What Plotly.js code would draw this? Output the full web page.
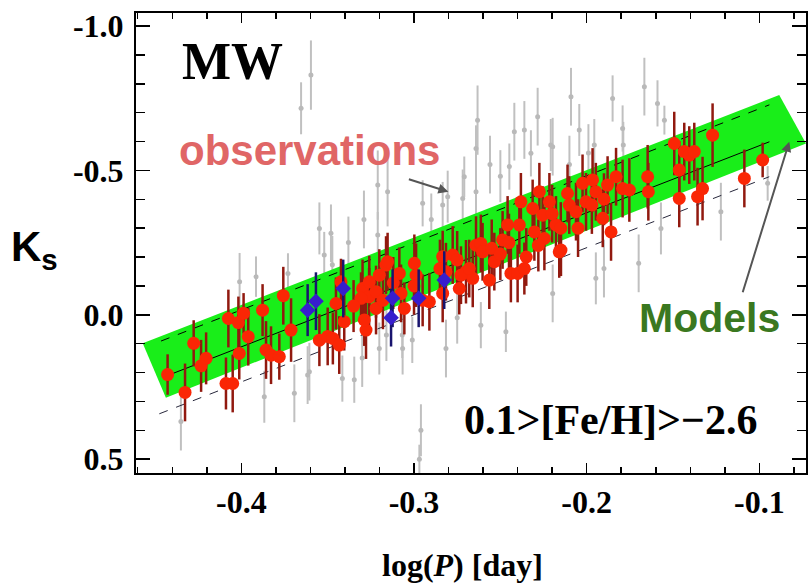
<!DOCTYPE html>
<html>
<head>
<meta charset="utf-8">
<script src="https://cdn.plot.ly/plotly-3.0.1.min.js"></script>
<style>html,body{margin:0;padding:0;background:#fff;}#chart{width:808px;height:586px;}</style>
</head>
<body>
<div id="chart"></div>
<script>
// ---- data ----
// red: MW observations
const redX = [-0.4427,-0.4326,-0.4276,-0.4233,-0.4204,-0.4075,-0.4017,-0.3987,-0.3960,-0.4012,-0.4089,-0.4050,-0.3877,-0.3857,-0.3828,-0.3780,-0.3757,-0.3712,-0.3548,-0.3500,-0.3470,-0.3433,-0.3452,-0.3404,-0.3423,-0.3298,-0.3260,-0.3220,-0.3278,-0.3288,-0.3307,-0.3259,-0.3201,-0.3162,-0.3153,-0.3220,-0.3085,-0.3075,-0.3056,-0.2998,-0.2988,-0.2911,-0.2834,-0.2834,-0.2776,-0.2815,-0.2699,-0.2660,-0.2641,-0.2738,-0.2728,-0.2680,-0.2613,-0.2603,-0.2564,-0.2535,-0.2487,-0.2458,-0.2439,-0.2400,-0.2361,-0.2390,-0.2381,-0.2313,-0.2303,-0.2274,-0.2255,-0.2245,-0.2178,-0.2149,-0.2111,-0.2101,-0.2062,-0.2024,-0.2004,-0.1966,-0.1947,-0.1907,-0.1859,-0.1879,-0.1830,-0.1792,-0.2216,-0.1753,-0.1647,-0.1643,-0.1493,-0.1435,-0.1406,-0.1377,-0.1271,-0.1464,-0.1464,-0.1358,-0.1329,-0.1087,-0.0981,-0.3350,-0.3180,-0.3120,-0.3000,-0.2950,-0.2850,-0.2750,-0.2550,-0.2500,-0.2450,-0.2350,-0.2280,-0.2200,-0.2150,-0.2050,-0.1970,-0.1900,-0.2159];
const redY = [0.207,0.269,0.099,0.177,0.151,0.013,0.027,-0.005,0.076,0.134,0.238,0.238,-0.016,0.122,0.140,0.145,-0.066,0.053,0.088,0.075,0.082,0.105,-0.039,0.024,-0.114,-0.091,-0.062,-0.022,0.053,0.018,-0.057,-0.114,-0.137,-0.172,-0.184,-0.080,-0.143,-0.074,-0.022,-0.178,-0.137,-0.045,-0.201,-0.074,-0.207,-0.149,-0.149,-0.126,-0.241,-0.091,-0.137,-0.160,-0.247,-0.218,-0.120,-0.184,-0.259,-0.311,-0.143,-0.143,-0.160,-0.311,-0.391,-0.368,-0.287,-0.426,-0.345,-0.264,-0.311,-0.224,-0.420,-0.380,-0.357,-0.455,-0.391,-0.467,-0.426,-0.334,-0.287,-0.449,-0.478,-0.437,-0.391,-0.432,-0.478,-0.426,-0.593,-0.565,-0.553,-0.565,-0.622,-0.501,-0.403,-0.409,-0.437,-0.472,-0.536,-0.030,-0.050,-0.110,-0.100,-0.050,-0.160,-0.190,-0.230,-0.210,-0.250,-0.200,-0.240,-0.350,-0.300,-0.300,-0.380,-0.400,-0.218];
const redErr = [0.07,0.10,0.08,0.09,0.09,0.10,0.09,0.07,0.10,0.09,0.09,0.10,0.09,0.10,0.10,0.08,0.10,0.11,0.09,0.10,0.09,0.10,0.09,0.10,0.08,0.10,0.10,0.09,0.10,0.09,0.09,0.09,0.09,0.10,0.10,0.09,0.09,0.10,0.09,0.10,0.11,0.10,0.09,0.10,0.10,0.10,0.11,0.10,0.10,0.09,0.10,0.10,0.10,0.10,0.10,0.10,0.10,0.10,0.10,0.10,0.09,0.10,0.10,0.10,0.10,0.10,0.10,0.11,0.10,0.09,0.10,0.10,0.10,0.10,0.10,0.11,0.10,0.10,0.10,0.10,0.10,0.10,0.10,0.11,0.11,0.10,0.11,0.10,0.10,0.10,0.11,0.10,0.10,0.10,0.11,0.10,0.06,0.09,0.10,0.09,0.10,0.09,0.10,0.10,0.10,0.09,0.10,0.10,0.09,0.10,0.09,0.10,0.10,0.09,0.09];
// blue diamonds
const blueX = [-0.3616,-0.3568,-0.3410,-0.3133,-0.3124,-0.2973,-0.2825];
const blueY = [-0.016,-0.047,-0.091,0.010,-0.057,-0.057,-0.120];
const blueErr = [0.09,0.10,0.10,0.10,0.10,0.10,0.10];
// grey points
const grayX = [-0.4010,-0.4350,-0.3867,-0.3693,-0.3616,-0.3730,-0.3915,-0.3473,-0.3415,-0.3346,-0.3160,-0.3068,-0.3010,-0.2960,-0.2969,-0.2815,-0.3548,-0.3481,-0.3520,-0.3210,-0.3153,-0.3210,-0.2950,-0.2834,-0.2805,-0.2718,-0.2641,-0.3606,-0.3201,-0.3066,-0.3597,-0.3654,-0.2632,-0.2641,-0.2419,-0.2361,-0.2284,-0.2197,-0.2448,-0.2323,-0.2709,-0.2091,-0.1850,-0.2208,-0.2043,-0.1956,-0.1792,-0.2197,-0.1947,-0.2613,-0.2468,-0.1666,-0.1590,-0.1550,-0.1788,-0.1570,-0.1223,-0.1699,-0.0952,-0.3380,-0.3290,-0.2900,-0.2560,-0.2500,-0.2100,-0.1990,-0.1900,-0.2750,-0.3300];
const grayY = [-0.114,0.370,0.284,0.272,0.209,-0.143,-0.132,-0.173,0.221,0.225,0.070,0.070,0.087,0.400,0.500,0.117,-0.299,-0.282,-0.207,-0.449,-0.426,-0.276,-0.386,-0.380,-0.409,-0.403,-0.426,0.197,0.117,0.117,-0.830,-0.715,-0.674,-0.576,-0.634,-0.640,-0.686,-0.582,-0.513,-0.559,-0.478,-0.755,-0.749,-0.588,-0.640,-0.588,-0.645,-0.074,-0.126,0.036,0.059,-0.790,-0.732,-0.674,-0.588,-0.299,-0.357,-0.178,-0.455,-0.250,-0.330,-0.330,-0.520,-0.480,-0.520,-0.560,-0.160,0.010,0.150];
const grayErr = [0.10,0.10,0.09,0.10,0.10,0.07,0.07,0.10,0.08,0.08,0.09,0.08,0.08,0.09,0.05,0.10,0.09,0.10,0.08,0.12,0.12,0.08,0.08,0.08,0.09,0.10,0.10,0.10,0.09,0.09,0.12,0.09,0.12,0.08,0.10,0.10,0.10,0.10,0.08,0.08,0.07,0.10,0.08,0.09,0.09,0.09,0.08,0.10,0.09,0.08,0.07,0.10,0.08,0.05,0.08,0.09,0.10,0.10,0.06,0.09,0.10,0.09,0.10,0.09,0.10,0.10,0.10,0.09,0.10];
// model band (parallelogram corners) and fitted relations
const bandX = [-0.4571,-0.0885,-0.0730,-0.4437,-0.4571];
const bandY = [0.099,-0.761,-0.593,0.287,0.099];
const fitX = [-0.4417,-0.0942];
const fitY = [0.208,-0.599];
const upperX = [-0.4465,-0.0942];
const upperY = [0.091,-0.727];
const lowerX = [-0.4475,-0.0943];
const lowerY = [0.343,-0.478];
// tick labels
const xTickVals = [-0.4,-0.3,-0.2,-0.1];
const xTickText = ['-0.4','-0.3','-0.2','-0.1'];
const yTickVals = [-1.0,-0.5,0.0,0.5];
const yTickText = ['-1.0','-0.5','0.0','0.5'];

const traces = [
  {x: grayX, y: grayY, type:'scatter', mode:'markers',
   marker:{color:'rgb(185,185,185)', size:5, symbol:'circle'},
   error_y:{type:'data', array:grayErr, visible:true, color:'rgb(192,192,192)', thickness:2, width:0},
   hoverinfo:'skip'},
  {x: bandX, y: bandY, type:'scatter', mode:'lines', fill:'toself',
   fillcolor:'rgb(25,238,25)', line:{width:0, color:'rgb(25,238,25)'}, hoverinfo:'skip'},
  {x: fitX, y: fitY, type:'scatter', mode:'lines', line:{color:'black', width:1}},
  {x: upperX, y: upperY, type:'scatter', mode:'lines', line:{color:'black', width:1, dash:'dash'}},
  {x: lowerX, y: lowerY, type:'scatter', mode:'lines', line:{color:'rgb(40,40,60)', width:1, dash:'dash'}},
  {x: redX, y: redY, type:'scatter', mode:'markers',
   marker:{color:'rgb(250,38,5)', size:13, symbol:'circle'},
   error_y:{type:'data', array:redErr, visible:true, color:'rgb(145,25,15)', thickness:2.5, width:0}},
  {x: blueX, y: blueY, type:'scatter', mode:'markers',
   marker:{color:'rgb(55,30,205)', size:12, symbol:'diamond'},
   error_y:{type:'data', array:blueErr, visible:true, color:'rgb(25,20,110)', thickness:2.5, width:0}}
];

const tickFont = {family:'Liberation Serif', size:32, weight:'bold', color:'black'};
const layout = {
  width:808, height:586,
  margin:{l:136, r:2, t:13, b:113},
  paper_bgcolor:'white', plot_bgcolor:'white',
  showlegend:false,
  xaxis:{range:[-0.461,-0.073], tickmode:'array', tickvals:xTickVals, ticktext:xTickText,
    ticks:'inside', ticklen:10, tickwidth:1.5, tickcolor:'black',
    minor:{dtick:0.02, tick0:0, ticks:'inside', ticklen:6, tickwidth:1.5, tickcolor:'black'},
    showline:true, linecolor:'black', linewidth:2, mirror:'allticks',
    showgrid:false, zeroline:false, tickfont:tickFont, ticklabelstandoff:0},
  yaxis:{range:[0.548,-1.045], tickmode:'array', tickvals:yTickVals, ticktext:yTickText,
    ticks:'inside', ticklen:14, tickwidth:1.5, tickcolor:'black',
    minor:{dtick:0.1, tick0:0, ticks:'inside', ticklen:9, tickwidth:1.5, tickcolor:'black'},
    showline:true, linecolor:'black', linewidth:2, mirror:'allticks',
    showgrid:false, zeroline:false, tickfont:tickFont, ticklabelstandoff:4},
  annotations:[
    {xref:'paper', yref:'paper', x:0.4866, y:-0.2, text:'log(<i>P</i>) [day]', showarrow:false,
     font:{family:'Liberation Serif', size:32, weight:'bold', color:'black'}, xanchor:'center', yanchor:'middle'},
    {xref:'paper', yref:'paper', x:-0.152, y:0.485, text:'K<sub>s</sub>', showarrow:false,
     font:{family:'Liberation Sans', size:42, weight:'bold', color:'black'}, xanchor:'center', yanchor:'middle'},
    {xref:'paper', yref:'paper', x:0.1433, y:0.8935, text:'MW', showarrow:false,
     font:{family:'Liberation Serif', size:52, weight:'bold', color:'black'}, xanchor:'center', yanchor:'middle'},
    {xref:'paper', yref:'paper', x:0.2597, y:0.702, text:'observations', showarrow:false,
     font:{family:'Liberation Sans', size:42, weight:'bold', color:'rgb(224,102,102)'}, xanchor:'center', yanchor:'middle'},
    {xref:'paper', yref:'paper', x:0.8567, y:0.337, text:'Models', showarrow:false,
     font:{family:'Liberation Sans', size:41, weight:'bold', color:'rgb(58,120,32)'}, xanchor:'center', yanchor:'middle'},
    {xref:'paper', yref:'paper', x:0.7075, y:0.1152, text:'0.1&gt;[Fe/H]&gt;\u22122.6', showarrow:false,
     font:{family:'Liberation Serif', size:42, weight:'bold', color:'black'}, xanchor:'center', yanchor:'middle'},
    {xref:'x', yref:'y', x:-0.2801, y:-0.426, ax:-41, ay:-13, text:'', showarrow:true,
     arrowhead:2, arrowsize:1, arrowwidth:2, arrowcolor:'rgb(85,85,85)'},
    {xref:'x', yref:'y', x:-0.0827, y:-0.599, ax:-47, ay:152, text:'', showarrow:true,
     arrowhead:2, arrowsize:1, arrowwidth:2, arrowcolor:'rgb(85,85,85)'}
  ]
};
Plotly.newPlot('chart', traces, layout, {staticPlot:true, displayModeBar:false});
</script>
</body>
</html>
